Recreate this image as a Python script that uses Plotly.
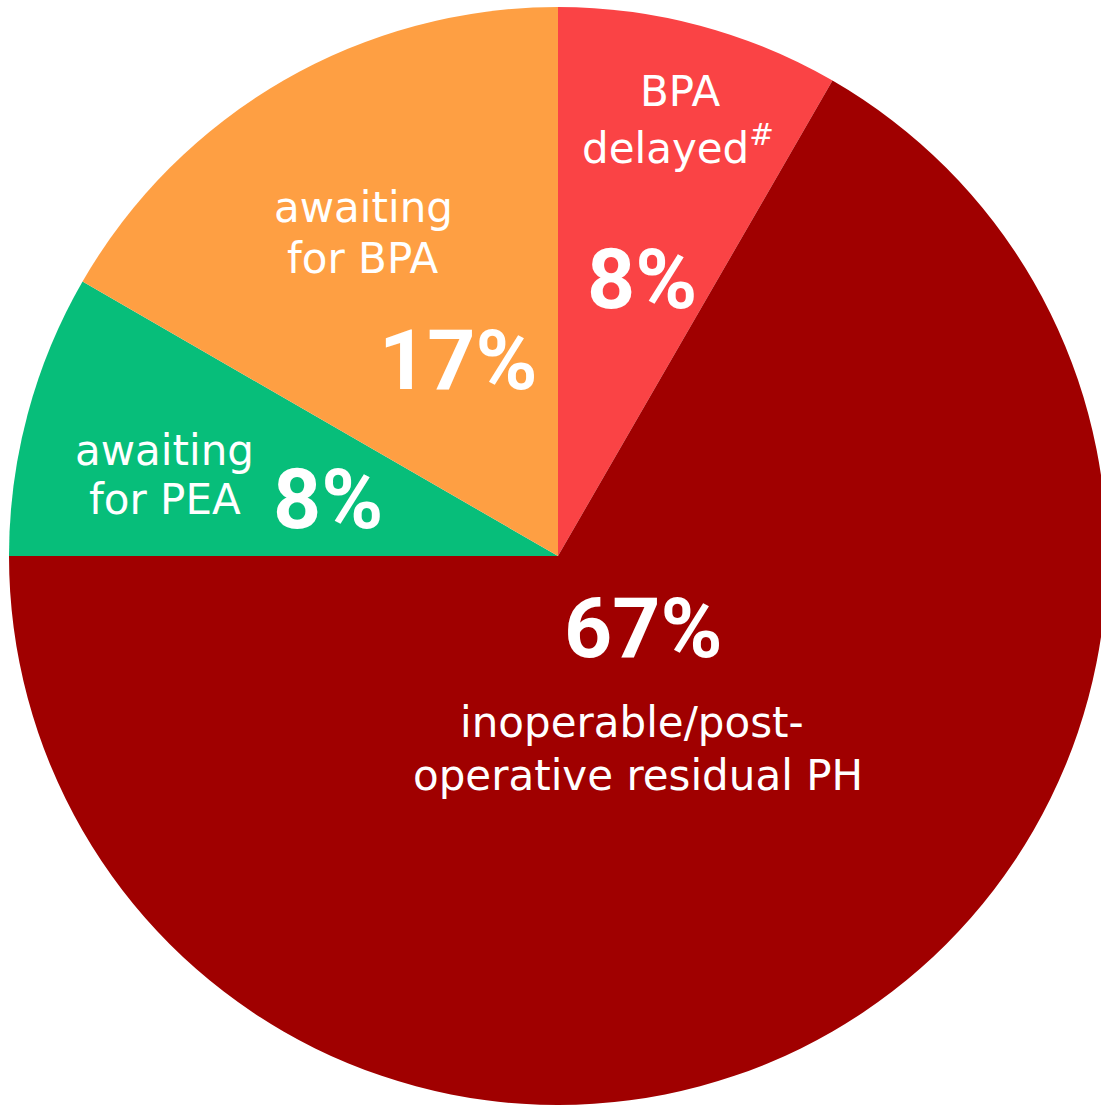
import plotly.graph_objects as go

# Data (clockwise from 12 o'clock)
categories = ["BPA delayed", "inoperable/post-operative residual PH", "awaiting for PEA", "awaiting for BPA"]
counts = [1, 8, 1, 2]
colors = ["#FA4345", "#A00000", "#07BE7A", "#FE9F43"]

total = sum(counts)
pct = [f"{round(100 * c / total)}%" for c in counts]

W, H = 1107, 1105

fig = go.Figure(go.Pie(
    labels=categories,
    values=counts,
    sort=False,
    direction="clockwise",
    rotation=0,
    marker=dict(colors=colors, line=dict(width=0)),
    textinfo="none",
    hoverinfo="skip",
    showlegend=False,
    domain=dict(x=[9 / W, 1.0], y=[0.0, 1 - 7 / H]),
))

DESC_FONT = "DejaVu Sans"
PCT_FONT = "Roboto"
desc_size = 42
pct_size = 84

def ann(text, px, py, size, family, bold=False):
    fig.add_annotation(
        x=px / W, y=1 - py / H, xref="paper", yref="paper",
        text=f"<b>{text}</b>" if bold else text,
        showarrow=False, xanchor="center", yanchor="middle",
        font=dict(family=family, size=size, color="white"),
    )

# BPA delayed
ann("BPA", 680, 91, desc_size, DESC_FONT)
ann("delayed<sup>#</sup>", 678, 146, desc_size, DESC_FONT)
ann(pct[0], 642, 279, pct_size, PCT_FONT, bold=True)
# inoperable
ann(pct[1], 643, 628, pct_size, PCT_FONT, bold=True)
ann("inoperable/post-", 632, 722, desc_size, DESC_FONT)
ann("operative residual PH", 638, 775, desc_size, DESC_FONT)
# awaiting for PEA
ann("awaiting", 164, 450, desc_size, DESC_FONT)
ann("for PEA", 165, 500, desc_size, DESC_FONT)
ann(pct[2], 328, 500, pct_size, PCT_FONT, bold=True)
# awaiting for BPA
ann("awaiting", 363, 207, desc_size, DESC_FONT)
ann("for BPA", 363, 258, desc_size, DESC_FONT)
ann(pct[3], 458, 361, pct_size, PCT_FONT, bold=True)

fig.update_layout(
    width=W, height=H,
    margin=dict(l=0, r=0, t=0, b=0),
    paper_bgcolor="white",
    plot_bgcolor="white",
)

fig.write_html(
    "out.html",
    config={"displayModeBar": False},
    post_script="document.body.style.margin='0';document.body.style.overflow='hidden';",
)
